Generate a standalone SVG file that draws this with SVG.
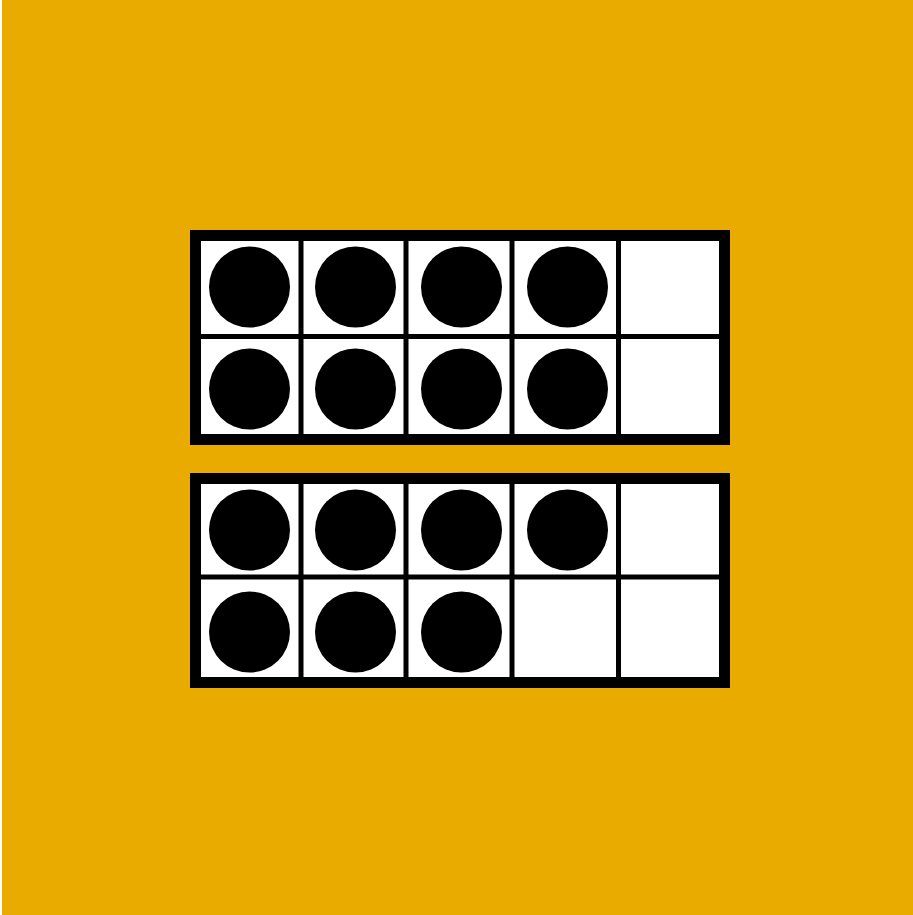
<svg xmlns="http://www.w3.org/2000/svg" width="913" height="915" viewBox="0 0 913 915">
<style>
.frame{fill:#fff;stroke:#000;stroke-width:11}
.div{stroke:#000;stroke-width:5}
.dot{fill:#000}
</style>
<rect x="0" y="0" width="913" height="915" fill="#fff"/>
<rect x="2" y="0" width="911" height="915" fill="#E9AB00"/>
<g id="frame-top">
<rect class="frame" x="195.5" y="235.5" width="529" height="204"/>
<line class="div" x1="195" y1="336.5" x2="725" y2="336.5"/>
<line class="div" x1="301" y1="235" x2="301" y2="440"/>
<line class="div" x1="406" y1="235" x2="406" y2="440"/>
<line class="div" x1="512" y1="235" x2="512" y2="440"/>
<line class="div" x1="618.5" y1="235" x2="618.5" y2="440"/>
<circle class="dot" cx="249.5" cy="287" r="40.5"/>
<circle class="dot" cx="355.5" cy="287" r="40.5"/>
<circle class="dot" cx="461.5" cy="287" r="40.5"/>
<circle class="dot" cx="567.5" cy="287" r="40.5"/>
<circle class="dot" cx="249.5" cy="389" r="40.5"/>
<circle class="dot" cx="355.5" cy="389" r="40.5"/>
<circle class="dot" cx="461.5" cy="389" r="40.5"/>
<circle class="dot" cx="567.5" cy="389" r="40.5"/>
</g>
<g id="frame-bottom">
<rect class="frame" x="195.5" y="478.5" width="529" height="204"/>
<line class="div" x1="195" y1="577" x2="725" y2="577"/>
<line class="div" x1="301" y1="478" x2="301" y2="683"/>
<line class="div" x1="406" y1="478" x2="406" y2="683"/>
<line class="div" x1="512" y1="478" x2="512" y2="683"/>
<line class="div" x1="618.5" y1="478" x2="618.5" y2="683"/>
<circle class="dot" cx="249.5" cy="530" r="40.5"/>
<circle class="dot" cx="355.5" cy="530" r="40.5"/>
<circle class="dot" cx="461.5" cy="530" r="40.5"/>
<circle class="dot" cx="567.5" cy="530" r="40.5"/>
<circle class="dot" cx="249.5" cy="632" r="40.5"/>
<circle class="dot" cx="355.5" cy="632" r="40.5"/>
<circle class="dot" cx="461.5" cy="632" r="40.5"/>
</g>
</svg>
